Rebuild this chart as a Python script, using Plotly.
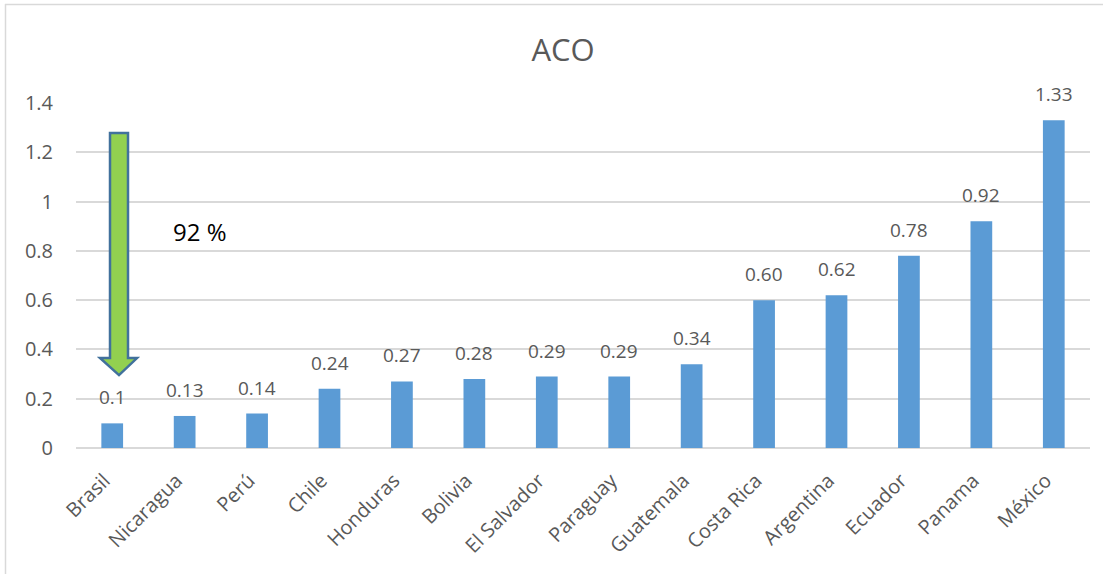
import plotly.graph_objects as go

# Category labels and ACO values per country
countries = ["Brasil", "Nicaragua", "Perú", "Chile", "Honduras", "Bolivia",
             "El Salvador", "Paraguay", "Guatemala", "Costa Rica", "Argentina",
             "Ecuador", "Panama", "México"]
aco_values = [0.10, 0.13, 0.14, 0.24, 0.27, 0.28, 0.29, 0.29, 0.34, 0.60,
              0.62, 0.78, 0.92, 1.33]
value_labels = ["0.1", "0.13", "0.14", "0.24", "0.27", "0.28", "0.29", "0.29",
                "0.34", "0.60", "0.62", "0.78", "0.92", "1.33"]
y_ticks = [0, 0.2, 0.4, 0.6, 0.8, 1.0, 1.2, 1.4]
y_tick_text = ["0", "0.2", "0.4", "0.6", "0.8", "1", "1.2", "1.4"]

W, H = 1113, 574
L, R, T, B = 76, 23, 103, 126
PW, PH = W - L - R, H - T - B

FONT = "Open Sans"
GRAY = "#595959"
BAR = "#5B9BD5"


def px_x(px):
    return (px - L) / PW


def px_y(py):
    return (H - B - py) / PH


fig = go.Figure()
fig.add_trace(go.Bar(
    x=countries, y=aco_values, width=0.30,
    marker=dict(color=BAR, line=dict(width=0)),
    hoverinfo="skip",
))

# value labels above each bar
annotations = [
    dict(x=c, y=v, xref="x", yref="y", text=t, showarrow=False,
         xanchor="center", yanchor="bottom", yshift=11,
         font=dict(family=FONT, size=19, color=GRAY))
    for c, v, t in zip(countries, aco_values, value_labels)
]
annotations.append(dict(text="92 %", xref="paper", yref="paper",
                        x=px_x(200), y=px_y(231), xanchor="center",
                        yanchor="middle", showarrow=False,
                        font=dict(family=FONT, size=24, color="black")))

shapes = []
# outer frame (top and left edges)
shapes.append(dict(type="line", xref="paper", yref="paper",
                   x0=px_x(5), x1=px_x(1103), y0=px_y(4.5), y1=px_y(4.5),
                   line=dict(color="#D9D9D9", width=1.5), layer="above"))
shapes.append(dict(type="line", xref="paper", yref="paper",
                   x0=px_x(5.5), x1=px_x(5.5), y0=px_y(4), y1=px_y(580),
                   line=dict(color="#D9D9D9", width=1.5), layer="above"))
# white text box behind the percentage label
shapes.append(dict(type="rect", xref="paper", yref="y",
                   x0=px_x(153), x1=px_x(283), y0=0.815, y1=1.005,
                   fillcolor="white", line=dict(width=0), layer="between"))
# green down arrow
ax_l, ax_r = px_x(110), px_x(128)
hx_l, hx_r, tip_x = px_x(100), px_x(137), px_x(119)
y_top, y_head, y_tip = 1.278, 0.365, 0.296
path = (f"M {ax_l},{y_top} L {ax_r},{y_top} L {ax_r},{y_head} L {hx_r},{y_head} "
        f"L {tip_x},{y_tip} L {hx_l},{y_head} L {ax_l},{y_head} Z")
shapes.append(dict(type="path", xref="paper", yref="y", path=path,
                   fillcolor="#92D050", line=dict(color="#41719C", width=2.5),
                   layer="above"))

fig.update_layout(
    width=W, height=H,
    margin=dict(l=L, r=R, t=T, b=B, pad=0),
    paper_bgcolor="white", plot_bgcolor="white",
    showlegend=False,
    title=dict(text="ACO", x=563 / W, xref="container", xanchor="center",
               y=1 - 50 / H, yref="container", yanchor="middle",
               font=dict(family=FONT, size=31, color=GRAY)),
    xaxis=dict(tickangle=-45, tickfont=dict(family=FONT, size=20, color=GRAY),
               showgrid=False, showline=False, ticks="", zeroline=False,
               ticklabelstandoff=16, ticklabelshift=-8,
               range=[-0.5, len(countries) - 0.5]),
    yaxis=dict(range=[0, 1.4], tickvals=y_ticks, ticktext=y_tick_text,
               tickfont=dict(family=FONT, size=20, color=GRAY),
               showgrid=True, gridcolor="#D9D9D9", gridwidth=1.5,
               zeroline=True, zerolinecolor="#D9D9D9", zerolinewidth=1.5,
               showline=False, ticks="", ticklabelstandoff=22),
    shapes=shapes,
    annotations=annotations,
)

fig.write_html("out.html")
